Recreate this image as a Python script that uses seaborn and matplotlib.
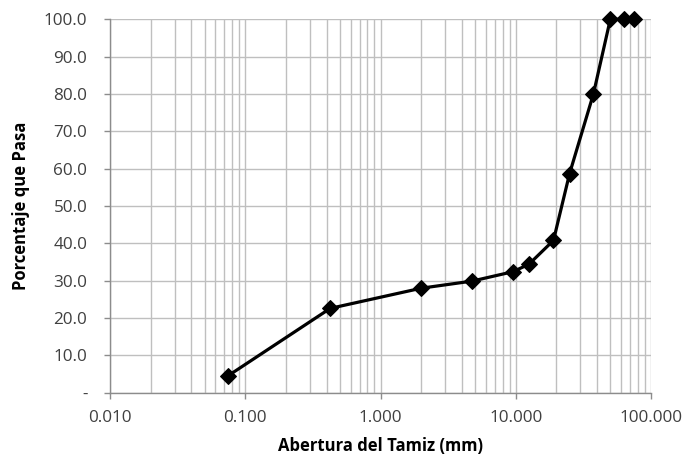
import matplotlib
matplotlib.use("Agg")
import matplotlib.pyplot as plt
import matplotlib.ticker as mticker
import seaborn as sns
import pandas as pd

abertura = [0.075, 0.425, 2.0, 4.75, 9.5, 12.5, 19.0, 25.0, 37.5, 50.0, 63.0, 75.0]
pasa = [4.6, 22.6, 28.0, 29.9, 32.4, 34.4, 40.8, 58.7, 80.0, 100.0, 100.0, 100.0]
x_ticks = [0.01, 0.1, 1, 10, 100]
x_labels = ["0.010", "0.100", "1.000", "10.000", "100.000"]
y_ticks = [0, 10, 20, 30, 40, 50, 60, 70, 80, 90, 100]
y_labels = ["-", "10.0", "20.0", "30.0", "40.0", "50.0", "60.0", "70.0", "80.0", "90.0", "100.0"]

sns.set_style("white")
plt.rcParams['font.family'] = ['Open Sans', 'DejaVu Sans']

df = pd.DataFrame({"abertura": abertura, "pasa": pasa})

fig = plt.figure(figsize=(6.84, 4.58), dpi=100)
ax = fig.add_axes([0.1608, 0.1424, 0.7910, 0.8155])

sns.lineplot(data=df, x="abertura", y="pasa", ax=ax, color="black", linewidth=2.3,
             marker="D", markersize=8.5, markeredgecolor="black", markerfacecolor="black",
             zorder=5, clip_on=False)

ax.set_xscale("log")
ax.set_xlim(0.01, 100)
ax.set_ylim(0, 100)

ax.xaxis.set_major_locator(mticker.FixedLocator(x_ticks))
ax.xaxis.set_major_formatter(mticker.FixedFormatter(x_labels))
ax.xaxis.set_minor_locator(mticker.LogLocator(base=10, subs=range(2, 10)))
ax.xaxis.set_minor_formatter(mticker.NullFormatter())
ax.set_yticks(y_ticks)
ax.set_yticklabels(y_labels)

grid_c = "#bfbfbf"
ax.grid(True, which="major", axis="both", color=grid_c, linewidth=1)
ax.grid(True, which="minor", axis="x", color=grid_c, linewidth=1)
ax.set_axisbelow(True)

for s in ["top", "right"]:
    ax.spines[s].set_visible(False)
for s in ["left", "bottom"]:
    ax.spines[s].set_color("#8c8c8c")
    ax.spines[s].set_linewidth(1)

ax.tick_params(axis="both", which="major", direction="out", length=4.3, width=1,
               color="#8c8c8c", labelsize=12.3, labelcolor="#404040", left=True, bottom=True)
ax.tick_params(axis="x", which="minor", length=0)
ax.tick_params(axis="x", pad=8)
ax.tick_params(axis="y", pad=12)

ax.set_xlabel("Abertura del Tamiz (mm)", fontsize=12, fontweight="bold", color="black", labelpad=8)
ax.set_ylabel("Porcentaje que Pasa", fontsize=12, fontweight="bold", color="black", labelpad=10)

fig.savefig("out.png", dpi=100)
